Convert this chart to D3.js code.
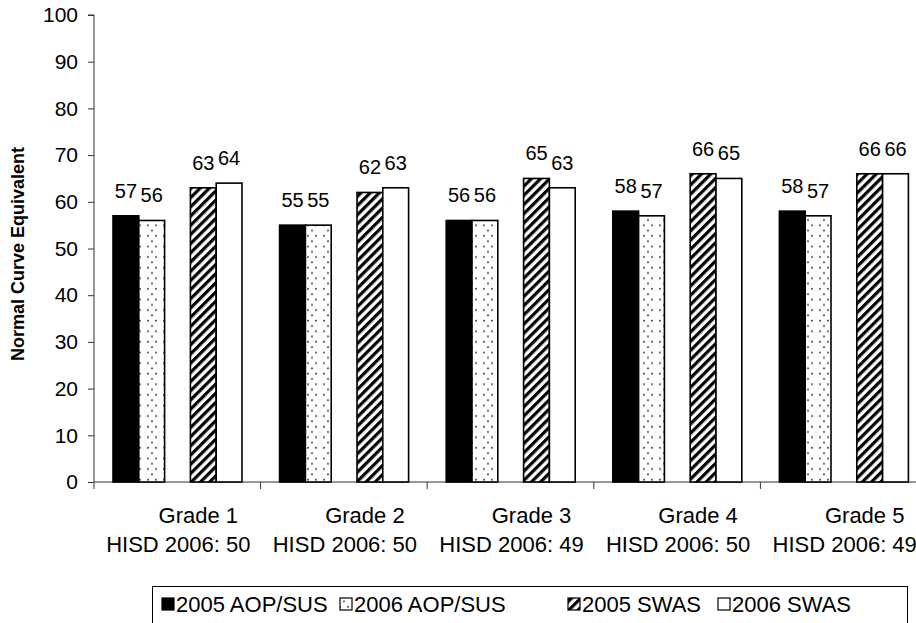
<!DOCTYPE html>
<html><head><meta charset="utf-8">
<script src="https://cdn.jsdelivr.net/npm/d3@7"></script>
<style>body{margin:0;background:#fff}svg{display:block;font-family:Arial,"Liberation Sans",sans-serif}</style>
</head><body><svg id="c" width="916" height="623"></svg>
<script>
const categories = ["Grade 1","Grade 2","Grade 3","Grade 4","Grade 5"];
const hisdLabels = ["HISD 2006: 50","HISD 2006: 50","HISD 2006: 49","HISD 2006: 50","HISD 2006: 49"];
const seriesNames = ["2005 AOP/SUS","2006 AOP/SUS","2005 SWAS","2006 SWAS"];
const aop2005 = [57,55,56,58,58];
const aop2006 = [56,55,56,57,57];
const swas2005 = [63,62,65,66,66];
const swas2006 = [64,63,63,65,66];
const yTicks = [0,10,20,30,40,50,60,70,80,90,100];
const yTitle = "Normal Curve Equivalent";

const svg = d3.select("#c");
const defs = svg.append("defs");
// dotted pattern
const pd = defs.append("pattern").attr("id","dots").attr("patternUnits","userSpaceOnUse")
  .attr("width",16).attr("height",10.6);
pd.append("rect").attr("width",16).attr("height",10.6).attr("fill","#fff");
[[4,2.6],[12,2.6],[8,7.9]].forEach(p=>pd.append("circle").attr("cx",p[0]).attr("cy",p[1]).attr("r",0.95).attr("fill","#333"));
// hatch pattern
const ph = defs.append("pattern").attr("id","hatch").attr("patternUnits","userSpaceOnUse")
  .attr("width",6.5).attr("height",6.5).attr("patternTransform","rotate(45)");
ph.append("rect").attr("width",6.5).attr("height",6.5).attr("fill","#fff");
ph.append("rect").attr("x",0).attr("y",0).attr("width",3.2).attr("height",6.5).attr("fill","#000");

const fills = ["#000","url(#dots)","url(#hatch)","#fff"];
const data = [aop2005,aop2006,swas2005,swas2006];

const x0 = 94, catW = 166.6;
const x = d3.scaleBand().domain(categories).range([x0, x0 + catW*categories.length]).padding(0);
const slots = d3.scaleBand().domain(["s0","s1","gap","s2","s3"]).range([19,148]).padding(0);
const slotKeys = ["s0","s1","s2","s3"];
const y = d3.scaleLinear().domain([0,100]).range([482,15]);

// y axis
const yAxis = d3.axisLeft(y).tickValues(yTicks).tickSize(6).tickPadding(10).tickFormat(d3.format("d"));
const gy = svg.append("g").attr("transform",`translate(${x0},0)`).call(yAxis);
gy.select(".domain").attr("stroke","#333").attr("d",`M-6,${y(100)}H0V${489}`);
gy.selectAll(".tick line").attr("stroke","#333");
gy.selectAll(".tick text").attr("font-size",21).attr("fill","#000").attr("font-family","Arial,'Liberation Sans',sans-serif");

// x axis line and ticks
svg.append("line").attr("x1",x0).attr("x2",916).attr("y1",y(0)).attr("y2",y(0)).attr("stroke","#333");
svg.selectAll(".xt").data(categories.slice(1)).enter().append("line")
  .attr("x1",d=>x(d)).attr("x2",d=>x(d)).attr("y1",y(0)).attr("y2",y(0)+7).attr("stroke","#333");

// bars
data.forEach((vals,si)=>{
  svg.append("g").selectAll("rect").data(vals).enter().append("rect")
    .attr("x",(d,i)=>x(categories[i])+slots(slotKeys[si]))
    .attr("width",slots.bandwidth())
    .attr("y",d=>y(d)).attr("height",d=>y(0)-y(d))
    .attr("fill",fills[si]).attr("stroke","#000").attr("stroke-width",1.6);
  svg.append("g").selectAll("text").data(vals).enter().append("text")
    .attr("x",(d,i)=>x(categories[i])+slots(slotKeys[si])+slots.bandwidth()/2)
    .attr("y",d=>y(d)-18).attr("text-anchor","middle").attr("font-size",20).text(d=>d);
});

// category labels
svg.append("g").selectAll("text").data(categories).enter().append("text")
  .attr("x",d=>x(d)+x.bandwidth()/2+21).attr("y",523).attr("text-anchor","middle")
  .attr("font-size",22).text(d=>d);
svg.append("g").selectAll("text").data(hisdLabels).enter().append("text")
  .attr("x",(d,i)=>x(categories[i])+x.bandwidth()/2+1).attr("y",552).attr("text-anchor","middle")
  .attr("font-size",22).text(d=>d);

// y title
svg.append("text").attr("transform","translate(24,254) rotate(-90)").attr("text-anchor","middle")
  .attr("font-size",18).attr("font-weight","bold").text(yTitle);

// legend
const lg = svg.append("g");
lg.append("rect").attr("x",152.5).attr("y",586.5).attr("width",755).attr("height",40)
  .attr("fill","#fff").attr("stroke","#000").attr("stroke-width",1);
const legX = [162,340,568,718];
seriesNames.forEach((n,i)=>{
  lg.append("rect").attr("x",legX[i]).attr("y",598).attr("width",12).attr("height",12)
    .attr("fill",fills[i]).attr("stroke","#000").attr("stroke-width",1.2);
  lg.append("text").attr("x",legX[i]+14).attr("y",612).attr("font-size",22).text(n);
});
</script></body></html>
